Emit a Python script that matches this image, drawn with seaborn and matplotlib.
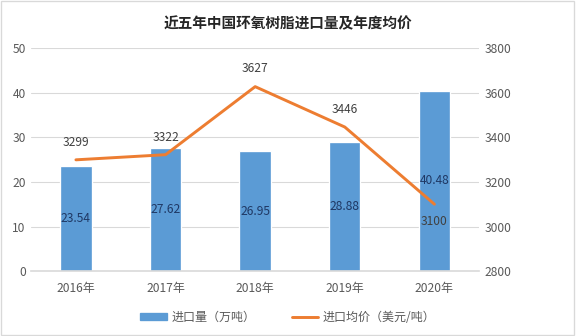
import matplotlib
matplotlib.use("Agg")
import matplotlib.pyplot as plt
import seaborn as sns
import pandas as pd
from matplotlib.patches import Patch, Rectangle
from matplotlib.lines import Line2D

years = ["2016年", "2017年", "2018年", "2019年", "2020年"]
volume = [23.54, 27.62, 26.95, 28.88, 40.48]
price = [3299, 3322, 3627, 3446, 3100]
left_ticks = [0, 10, 20, 30, 40, 50]
right_ticks = [2800, 3000, 3200, 3400, 3600, 3800]

sns.set_theme(style="white")
plt.rcParams['font.family'] = ['Noto Sans CJK SC', 'DejaVu Sans']

df = pd.DataFrame({"year": years, "volume": volume, "price": price})

fig = plt.figure(figsize=(6, 3.5), dpi=96)
ax = fig.add_axes([0.054, 0.193, 0.778, 0.664])
blue = "#5B9BD5"
orange = "#ED7D31"
grey = "#595959"

sns.barplot(data=df, x="year", y="volume", color=blue, width=0.35,
            saturation=1, ax=ax, zorder=2)
ax.set_ylim(0, 50)
ax.set_yticks(left_ticks)
ax.grid(axis="y", color="#D9D9D9", linewidth=0.8, zorder=0)
for s in ["top", "right", "left"]:
    ax.spines[s].set_visible(False)
ax.spines["bottom"].set_color("#D9D9D9")
ax.tick_params(axis="both", length=0, labelsize=9, colors=grey, pad=4)
ax.tick_params(axis="x", pad=8)
ax.set_xlabel("")
ax.set_ylabel("")

for i, v in enumerate(volume):
    ax.text(i, v / 2, f"{v:.2f}", ha="center", va="center", fontsize=9,
            color="#1F3864", zorder=5)

ax2 = ax.twinx()
sns.lineplot(data=df, x="year", y="price", color=orange, linewidth=2.2,
             ax=ax2, sort=False, zorder=3)
ax2.set_ylim(2800, 3800)
ax2.set_yticks(right_ticks)
for s in ["top", "right", "left", "bottom"]:
    ax2.spines[s].set_visible(False)
ax2.tick_params(axis="y", length=0, labelsize=9, colors=grey, pad=4)
ax2.set_ylabel("")
ax2.set_xlabel("")
ax2.grid(False)

for i, p in enumerate(price):
    if i == 4:
        ax2.text(i, p - 50, f"{p}", ha="center", va="top", fontsize=9, color="#404040")
    else:
        ax2.text(i, p + 50, f"{p}", ha="center", va="bottom", fontsize=9, color="#404040")

ax.set_xlim(-0.5, len(years) - 0.5)
ax2.set_xlim(-0.5, len(years) - 0.5)

fig.suptitle("近五年中国环氧树脂进口量及年度均价", x=0.5, y=0.955,
             fontsize=11, fontweight="bold", color="#262626")

handles = [Patch(facecolor=blue, edgecolor=blue),
           Line2D([0], [0], color=orange, linewidth=2.2)]
labels = ["进口量（万吨）", "进口均价（美元/吨）"]
fig.legend(handles, labels, loc="center", bbox_to_anchor=(0.5, 0.055), ncol=2,
           frameon=False, fontsize=9, labelcolor=grey, handlelength=2.2,
           handleheight=0.5, columnspacing=3, handletextpad=0.4)

fig.patches.append(Rectangle((0.002, 0.003), 0.995, 0.993, transform=fig.transFigure,
                             fill=False, edgecolor="#D9D9D9", linewidth=1))

fig.savefig("out.png", dpi=96)
